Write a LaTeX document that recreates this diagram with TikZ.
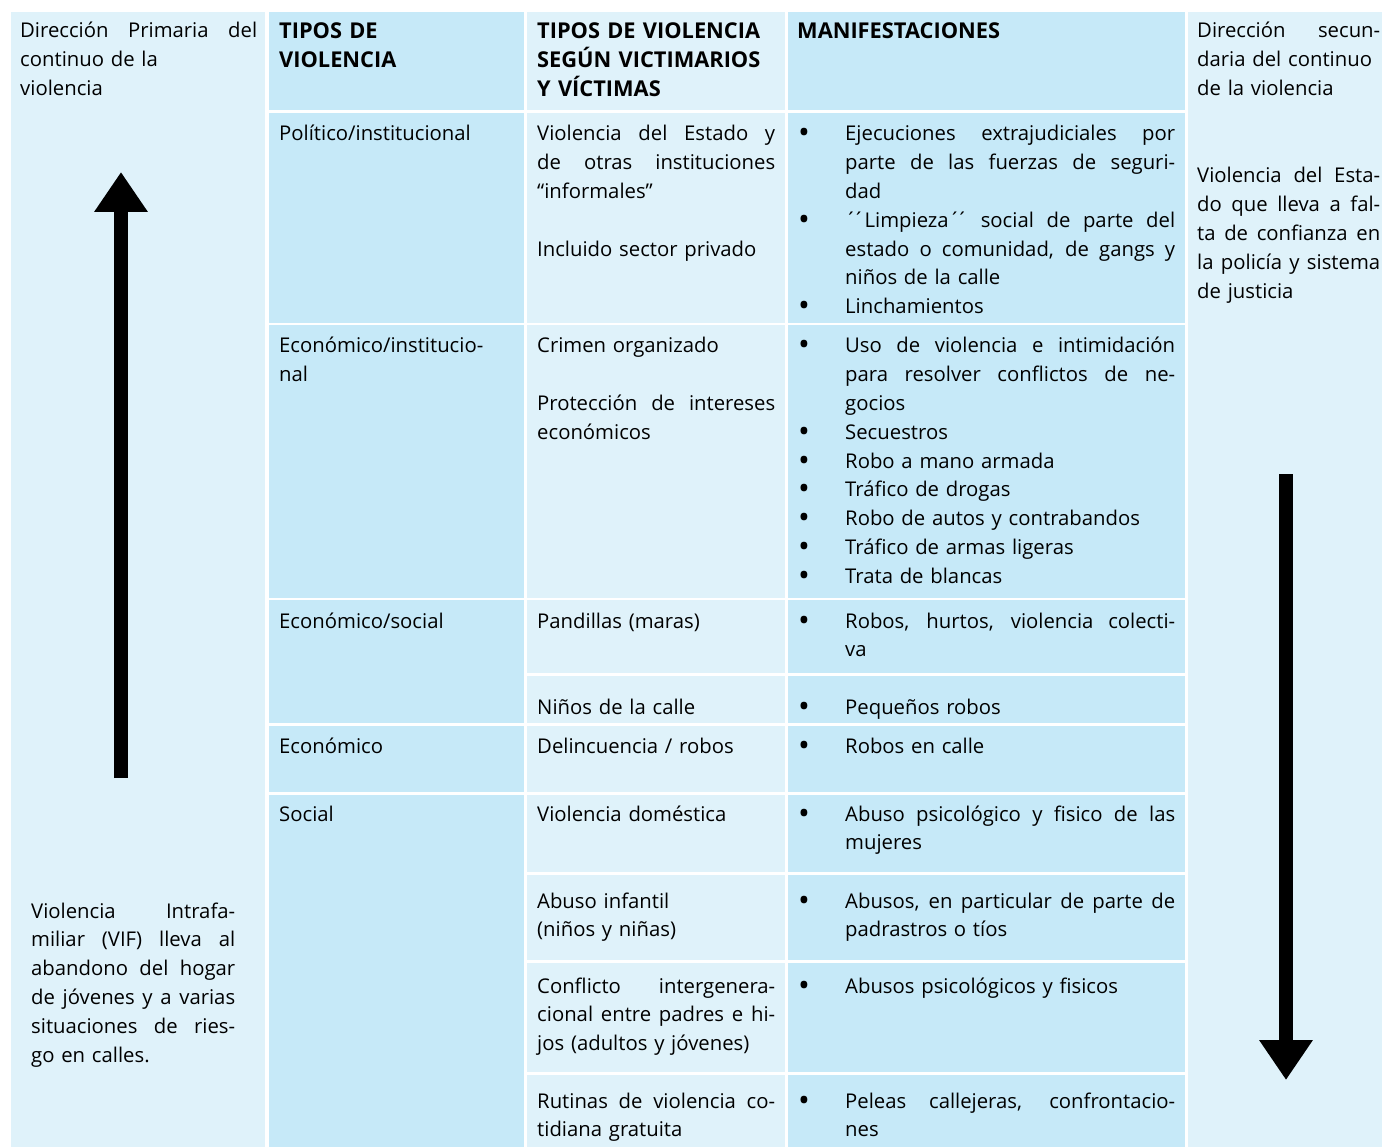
\documentclass[tikz,border=0pt]{standalone}
\usepackage{fontspec}
\usepackage{graphicx}
\setmainfont{Open Sans}
\usetikzlibrary{arrows.meta}
\definecolor{palecell}{RGB}{223,242,250}
\definecolor{bluecell}{RGB}{198,233,248}
\newcommand{\cellfont}{\fontsize{20.3}{28.8}\selectfont}
\newcommand{\headfont}{\fontsize{21.8}{28.8}\selectfont\bfseries}
\newcommand{\jl}[2]{{\spaceskip=0pt\xspaceskip=0pt\makebox[#1][s]{#2}}}
\newcommand{\bu}{\makebox[47pt][l]{\smash{\raisebox{-3pt}{\scalebox{1.55}{\textbullet}}}}}
\newcommand{\nb}{\makebox[47pt]{}}
\newcommand{\dq}{´\kern-4pt´}
\tikzset{
  txt/.style={anchor=base west, inner sep=0pt, font=\cellfont, align=left, text width=#1},
  txt/.default=240pt,
  head/.style={txt=#1, font=\headfont},
  bigarrow/.style={line width=14pt, -{Triangle[width=51pt,length=40pt]}}
}

\begin{document}
\begin{tikzpicture}[x=1pt, y=-1pt]
        \useasboundingbox (0,0) rectangle (1382,1147);

        % side columns
        \fill[palecell] (11,12) rectangle (265,1147);
        \fill[palecell] (1188,12) rectangle (1382,1147);

        % cells
        \foreach \ya/\yb in {12/110, 113/323, 325/598, 600/723, 726/792, 795/1147}
            \fill[bluecell] (269,\ya) rectangle (524,\yb);
        \foreach \ya/\yb in {12/110, 113/323, 325/598, 600/673, 676/723, 726/792, 795/872, 875/960, 963/1072, 1075/1147} {
            \fill[palecell] (527,\ya) rectangle (785,\yb);
            \fill[bluecell] (788,\ya) rectangle (1185,\yb);
        }

        % side texts
        \node[txt=238pt] (lefttop) at (20,38) {\jl{237pt}{Dirección Primaria del}\\continuo de la\\violencia};
        \node[txt=206pt] (leftbottom) at (31,918) {\jl{204pt}{Violencia Intrafa-}\\\jl{204pt}{miliar (VIF) lleva al}\\\jl{204pt}{abandono del hogar}\\\jl{204pt}{de jóvenes y a varias}\\\jl{204pt}{situaciones de ries-}\\go en calles.};
        \node[txt=190pt] (righttop) at (1197,38) {\jl{183pt}{Dirección secun-}\\daria del continuo\\de la violencia};
        \node[txt=190pt] (rightmid) at (1197,183) {\jl{183pt}{Violencia del Esta-}\\\jl{183pt}{do que lleva a fal-}\\\jl{183pt}{ta de confianza en}\\\jl{183pt}{la policía y sistema}\\de justicia};

        % header
        \node[head=236pt] (tipos) at (279,39) {TIPOS DE\\VIOLENCIA};
        \node[head=250pt] (segun) at (537,39) {TIPOS DE VIOLENCIA\\SEGÚN VICTIMARIOS\\Y VÍCTIMAS};
        \node[head=380pt] (manif) at (797,39) {MANIFESTACIONES};

        % Politico
        \node[txt] (politico) at (279,141) {Político/institucional};
        \node[txt] (estado) at (537,141) {\jl{238pt}{Violencia del Estado y}\\\jl{238pt}{de otras instituciones}\\“informales”\\[28.8pt]Incluido sector privado};
        \node[txt=380pt] (ejecuciones) at (798,141) {\bu\jl{330pt}{Ejecuciones extrajudiciales por}\\\nb\jl{330pt}{parte de las fuerzas de seguri-}\\\nb dad\\\bu\jl{330pt}{\dq Limpieza\dq{} social de parte del}\\\nb\jl{330pt}{estado o comunidad, de gangs y}\\\nb niños de la calle\\\bu Linchamientos};

        % Economico/institucional
        \node[txt] (econinst) at (279,353) {Económico/institucio-\\nal};
        \node[txt] (crimen) at (537,353) {Crimen organizado\\[28.8pt]\jl{238pt}{Protección de intereses}\\económicos};
        \node[txt=380pt] (intimidacion) at (798,353) {\bu\jl{330pt}{Uso de violencia e intimidación}\\\nb\jl{330pt}{para resolver conflictos de ne-}\\\nb gocios\\\bu Secuestros\\\bu Robo a mano armada\\\bu Tráfico de drogas\\\bu Robo de autos y contrabandos\\\bu Tráfico de armas ligeras\\\bu Trata de blancas};

        % Economico/social
        \node[txt] (econsoc) at (279,628) {Económico/social};
        \node[txt] (pandillas) at (537,628) {Pandillas (maras)};
        \node[txt=380pt] (hurtos) at (798,628) {\bu\jl{330pt}{Robos, hurtos, violencia colecti-}\\\nb va};
        \node[txt] (ninos) at (537,714) {Niños de la calle};
        \node[txt=380pt] (pequenos) at (798,714) {\bu Pequeños robos};

        % Economico
        \node[txt] (econ) at (279,753) {Económico};
        \node[txt] (delincuencia) at (537,753) {Delincuencia / robos};
        \node[txt=380pt] (calle) at (798,753) {\bu Robos en calle};

        % Social
        \node[txt] (social) at (279,821) {Social};
        \node[txt] (domestica) at (537,821) {Violencia doméstica};
        \node[txt=380pt] (mujeres) at (798,821) {\bu\jl{330pt}{Abuso psicológico y fisico de las}\\\nb mujeres};
        \node[txt] (infantil) at (537,908) {Abuso infantil\\(niños y niñas)};
        \node[txt=380pt] (padrastros) at (798,908) {\bu\jl{330pt}{Abusos, en particular de parte de}\\\nb padrastros o tíos};
        \node[txt] (conflicto) at (537,993) {\jl{238pt}{Conflicto intergenera-}\\\jl{238pt}{cional entre padres e hi-}\\jos (adultos y jóvenes)};
        \node[txt=380pt] (fisicos) at (798,993) {\bu Abusos psicológicos y fisicos};
        \node[txt] (rutinas) at (537,1108) {\jl{238pt}{Rutinas de violencia co-}\\tidiana gratuita};
        \node[txt=380pt] (peleas) at (798,1108) {\bu\jl{330pt}{Peleas callejeras, confrontacio-}\\\nb nes};

        % Arrows
        \coordinate (upfoot) at (121,778);
        \coordinate (uptip) at (121,172);
        \coordinate (downfoot) at (1286,474);
        \coordinate (downtip) at (1286,1080);
        \draw[bigarrow] (upfoot) -- (uptip);
        \draw[bigarrow] (downfoot) -- (downtip);
    \end{tikzpicture}
\end{document}
